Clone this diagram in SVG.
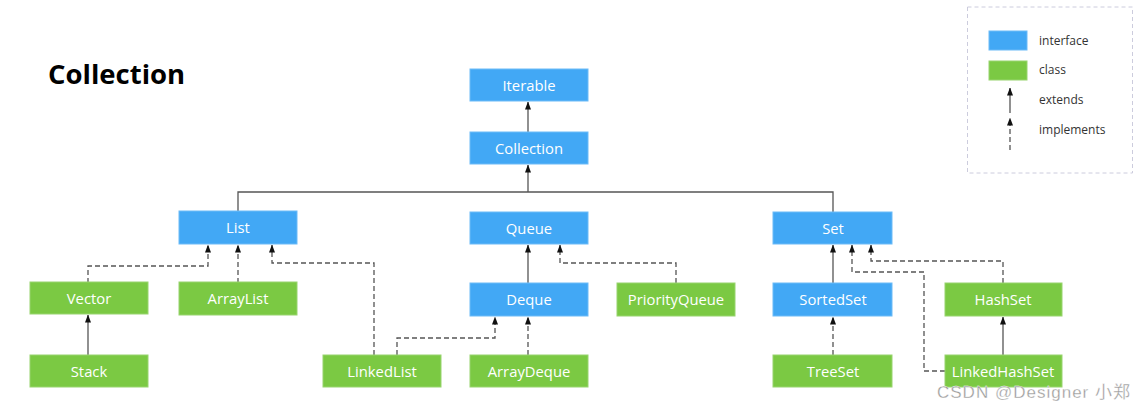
<svg xmlns="http://www.w3.org/2000/svg" width="1145" height="412" viewBox="0 0 1145 412">
<style>
.i{fill:#42A8F5;stroke:#6DBBF7;stroke-width:1}
.c{fill:#7BC943;stroke:#98D46E;stroke-width:1}
.t{font-family:"Open Sans","Liberation Sans",sans-serif;font-size:14.8px;fill:#fff;text-anchor:middle}
.s{fill:none;stroke:#555;stroke-width:1.3}
.d{fill:none;stroke:#555;stroke-width:1.3;stroke-dasharray:5,3}
.lg{font-family:"Open Sans","Liberation Sans",sans-serif;font-size:12px;fill:#333}
</style>
<defs>
<marker id="a" viewBox="0 0 8 6" refX="7.5" refY="3" markerWidth="8" markerHeight="6" markerUnits="userSpaceOnUse" orient="auto">
<path d="M0,0 L8,3 L0,6 Z" fill="#111"/>
</marker>
</defs>
<rect width="1145" height="412" fill="#fff"/>
<text x="48" y="84" font-family="'Open Sans','Liberation Sans',sans-serif" font-size="27.5" font-weight="bold" fill="#000">Collection</text>
<g id="legend">
<rect x="967.5" y="7" width="165" height="166" fill="none" stroke="#ccd" stroke-width="1" stroke-dasharray="4,3"/>
<rect x="989" y="31" width="38" height="19" class="i"/>
<rect x="989" y="61" width="38" height="19" class="c"/>
<path d="M1010,113 V88" class="s" marker-end="url(#a)"/>
<path d="M1010,150 V118" class="d" marker-end="url(#a)"/>
<text x="1039" y="45" class="lg">interface</text>
<text x="1039" y="74" class="lg">class</text>
<text x="1039" y="104" class="lg">extends</text>
<text x="1039" y="134" class="lg">implements</text>
</g>
<g id="connectors">
<path d="M238,212 V192 H833 V212" class="s"/>
<path d="M528,192 V165" class="s" marker-end="url(#a)"/>
<path d="M528,132 V102" class="s" marker-end="url(#a)"/>
<path d="M88,283 V266 H208 V245" class="d" marker-end="url(#a)"/>
<path d="M238,283 V245" class="d" marker-end="url(#a)"/>
<path d="M374,355 V263 H272 V245" class="d" marker-end="url(#a)"/>
<path d="M397,355 V338 H495 V317" class="d" marker-end="url(#a)"/>
<path d="M88,355 V315" class="s" marker-end="url(#a)"/>
<path d="M528,283 V245" class="s" marker-end="url(#a)"/>
<path d="M676,283 V263 H560 V245" class="d" marker-end="url(#a)"/>
<path d="M528,355 V317" class="d" marker-end="url(#a)"/>
<path d="M833,283 V245" class="s" marker-end="url(#a)"/>
<path d="M833,355 V317" class="d" marker-end="url(#a)"/>
<path d="M1003,283 V261 H871 V245" class="d" marker-end="url(#a)"/>
<path d="M945,371 H924 V272 H852 V245" class="d" marker-end="url(#a)"/>
<path d="M1003,355 V317" class="s" marker-end="url(#a)"/>
</g>
<g id="Iterable"><rect x="470" y="69" width="118" height="32" class="i"/><text x="529" y="90.5" class="t">Iterable</text></g>
<g id="Collection"><rect x="470" y="132" width="118" height="32" class="i"/><text x="529" y="153.5" class="t">Collection</text></g>
<g id="List"><rect x="179" y="211" width="118" height="33" class="i"/><text x="238" y="232.5" class="t">List</text></g>
<g id="Queue"><rect x="470" y="212" width="118" height="32" class="i"/><text x="529" y="233.5" class="t">Queue</text></g>
<g id="Set"><rect x="773" y="212" width="119" height="32" class="i"/><text x="833" y="233.5" class="t">Set</text></g>
<g id="Vector"><rect x="30" y="282" width="118" height="32" class="c"/><text x="89" y="303.5" class="t">Vector</text></g>
<g id="ArrayList"><rect x="179" y="282" width="118" height="33" class="c"/><text x="238" y="303.5" class="t">ArrayList</text></g>
<g id="Deque"><rect x="470" y="283" width="118" height="33" class="i"/><text x="529" y="304.5" class="t">Deque</text></g>
<g id="PriorityQueue"><rect x="617" y="283" width="118" height="33" class="c"/><text x="676" y="304.5" class="t">PriorityQueue</text></g>
<g id="SortedSet"><rect x="773" y="283" width="119" height="33" class="i"/><text x="833" y="304.5" class="t">SortedSet</text></g>
<g id="HashSet"><rect x="945" y="283" width="117" height="33" class="c"/><text x="1003" y="304.5" class="t">HashSet</text></g>
<g id="Stack"><rect x="30" y="355" width="118" height="32" class="c"/><text x="89" y="376.5" class="t">Stack</text></g>
<g id="LinkedList"><rect x="323" y="355" width="118" height="32" class="c"/><text x="382" y="376.5" class="t">LinkedList</text></g>
<g id="ArrayDeque"><rect x="470" y="355" width="118" height="32" class="c"/><text x="529" y="376.5" class="t">ArrayDeque</text></g>
<g id="TreeSet"><rect x="773" y="355" width="119" height="32" class="c"/><text x="833" y="376.5" class="t">TreeSet</text></g>
<g id="LinkedHashSet"><rect x="945" y="355" width="117" height="32" class="c"/><text x="1003" y="376.5" class="t">LinkedHashSet</text></g>
<text x="937" y="398" font-family="'Liberation Sans','Noto Sans CJK SC',sans-serif" font-size="17" fill="#999" stroke="#fff" stroke-width="0.3" textLength="193">CSDN @Designer 小郑</text>
</svg>
